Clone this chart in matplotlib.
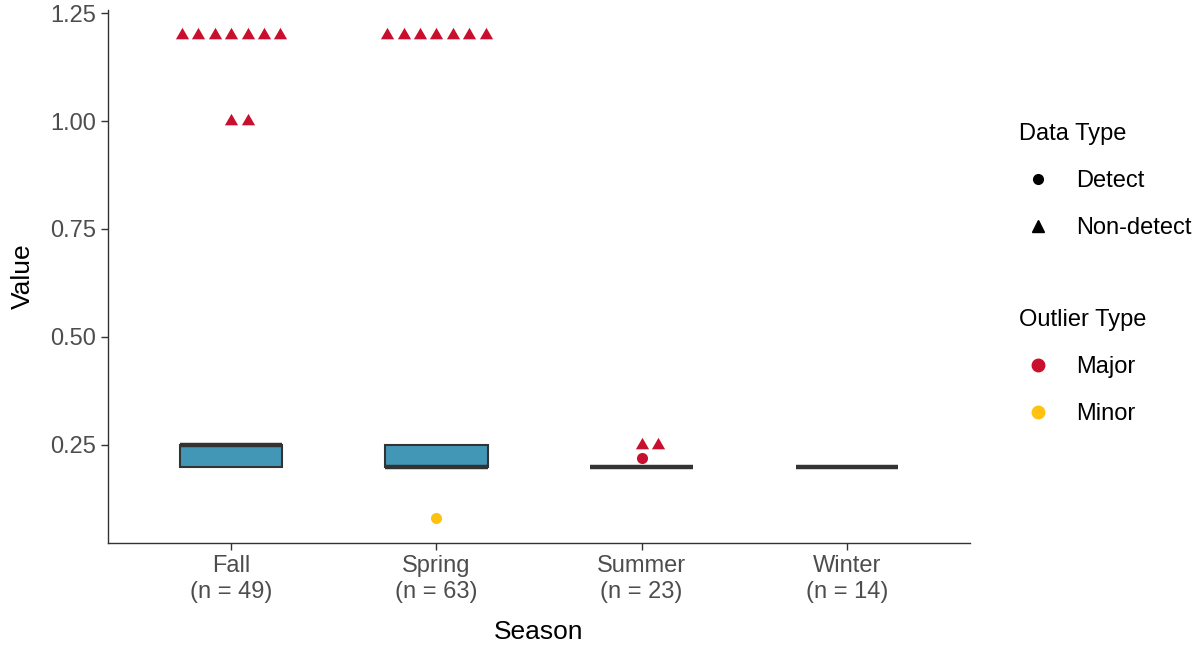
import numpy as np
import matplotlib.pyplot as plt
from matplotlib.lines import Line2D

plt.rcParams['font.family'] = ['Liberation Sans', 'DejaVu Sans']

seasons = ['Fall', 'Spring', 'Summer', 'Winter']
counts = [49, 63, 23, 14]

# box summary per season
q1 = [0.20, 0.20, 0.20, 0.20]
med = [0.25, 0.20, 0.20, 0.20]
q3 = [0.25, 0.25, 0.20, 0.20]
whis_lo = [0.20, 0.20, 0.20, 0.20]
whis_hi = [0.25, 0.25, 0.20, 0.20]

# outliers: season index, value, data type, outlier type
out_season = [0] * 7 + [0] * 2 + [1] * 7 + [1] + [2] * 2 + [2]
out_value = [1.2] * 7 + [1.0] * 2 + [1.2] * 7 + [0.08] + [0.25] * 2 + [0.22]
out_dtype = ['Non-detect'] * 16 + ['Detect'] + ['Non-detect'] * 2 + ['Detect']
out_otype = ['Major'] * 16 + ['Minor'] + ['Major'] * 3

red = '#C8102E'
yellow = '#FFC20E'
box_fill = '#4397B6'
dark = '#333333'

fig = plt.figure(figsize=(11.96, 6.46), dpi=100)
ax = fig.add_axes([108 / 1196, 103 / 646, 862 / 1196, 533 / 646])

stats = []
for i in range(len(seasons)):
    stats.append(dict(q1=q1[i], med=med[i], q3=q3[i], whislo=whis_lo[i],
                      whishi=whis_hi[i], fliers=[]))
ax.bxp(stats, positions=np.arange(1, 5), widths=0.5, patch_artist=True,
       showcaps=False,
       boxprops=dict(facecolor=box_fill, edgecolor=dark, linewidth=1.5),
       medianprops=dict(color=dark, linewidth=3.2, solid_capstyle='butt'),
       whiskerprops=dict(color=dark, linewidth=1.5))


def swarm_offsets(n, step=0.08):
    offs = [0.0]
    k = 1
    while len(offs) < n:
        offs.append(k * step)
        if len(offs) < n:
            offs.append(-k * step)
        k += 1
    return sorted(offs)


# triangle centred on its centroid, like ggplot's shape 17
tri = [(0, 1.0), (-0.866, -0.5), (0.866, -0.5), (0, 1.0)]

# place points sharing a season/value side by side
groups = {}
for i in range(len(out_value)):
    key = (out_season[i], out_value[i], out_dtype[i])
    groups.setdefault(key, []).append(i)

colors = {'Major': red, 'Minor': yellow}
markers = {'Detect': 'o', 'Non-detect': tri}
sizes = {'Detect': 8.0, 'Non-detect': 11.0}
for (s, v, d), idx in groups.items():
    offs = swarm_offsets(len(idx))
    for j, i in enumerate(idx):
        ax.scatter(s + 1 + offs[j], v, marker=markers[d], s=sizes[d] ** 2,
                   color=colors[out_otype[i]], linewidths=0, zorder=5)

ax.set_xlim(0.4, 4.6)
ax.set_ylim(0.023, 1.257)
ax.set_yticks([0.25, 0.5, 0.75, 1.0, 1.25])
ax.set_yticklabels(['0.25', '0.50', '0.75', '1.00', '1.25'])
ax.set_xticks(np.arange(1, 5))
ax.set_xticklabels([f'{s}\n(n = {n})' for s, n in zip(seasons, counts)],
                   linespacing=1.25)
ax.tick_params(axis='both', labelsize=17, colors='#333333', length=5,
               width=1, labelcolor='#4D4D4D')
for sp in ['top', 'right']:
    ax.spines[sp].set_visible(False)
for sp in ['left', 'bottom']:
    ax.spines[sp].set_color('#333333')
    ax.spines[sp].set_linewidth(1)
ax.set_xlabel('Season', fontsize=19, labelpad=12)
ax.set_ylabel('Value', fontsize=19, labelpad=11)

h1 = [Line2D([], [], marker='o', color='black', linestyle='', markersize=7),
      Line2D([], [], marker='^', color='black', linestyle='', markersize=9)]
fig.legend(h1, ['Detect', 'Non-detect'], title='Data Type',
           loc='upper left', bbox_to_anchor=(998 / 1196, 1 - 102 / 646),
           frameon=False, fontsize=17, title_fontsize=17,
           alignment='left', handletextpad=0.8, labelspacing=1.05,
           handlelength=1.6)
h2 = [Line2D([], [], marker='o', color=red, linestyle='', markersize=9),
      Line2D([], [], marker='o', color=yellow, linestyle='', markersize=9)]
fig.legend(h2, ['Major', 'Minor'], title='Outlier Type',
           loc='upper left', bbox_to_anchor=(998 / 1196, 1 - 288 / 646),
           frameon=False, fontsize=17, title_fontsize=17,
           alignment='left', handletextpad=0.8, labelspacing=1.05,
           handlelength=1.6)

fig.savefig('out.png', dpi=100)
